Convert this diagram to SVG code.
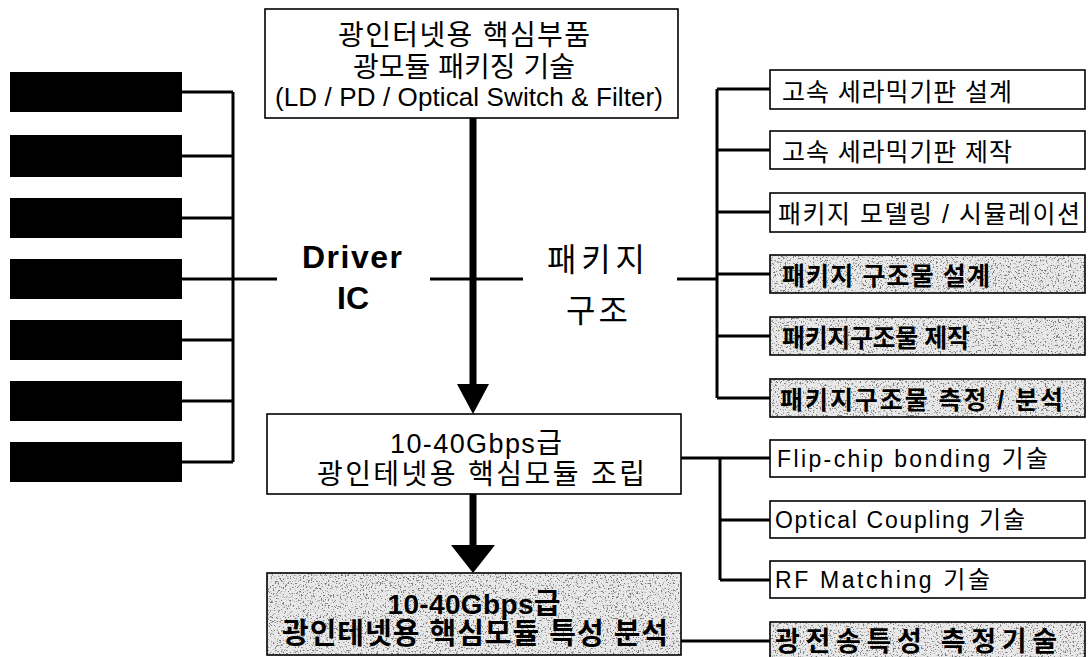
<svg xmlns="http://www.w3.org/2000/svg" width="1088" height="657" viewBox="0 0 1088 657">
  <style>
    .box { fill: #fff; stroke: #000; stroke-width: 1.6; }
    .bar { fill: #000; }
    .ln { stroke: #000; stroke-width: 3; fill: none; }
    .shaft { stroke: #000; stroke-width: 7; fill: none; }
    .head { fill: #000; }
    .t { font-family: "Liberation Sans", "Noto Sans CJK KR", sans-serif; fill: #000; }
    .c { text-anchor: middle; }
    .b { font-weight: bold; }
    .grain { fill: #e9e9e9; filter: url(#grain); }
    .edge { fill: none; stroke: #000; stroke-width: 1.6; }
  </style>
  <defs>
    <!-- speckled grey fill for the highlighted boxes -->
    <filter id="grain" x="0" y="0" width="1" height="1">
      <feTurbulence type="fractalNoise" baseFrequency="0.6" numOctaves="3" seed="7"/>
      <feColorMatrix type="matrix" values="0 0 0 0 0.2  0 0 0 0 0.2  0 0 0 0 0.2  8 0 0 0 -4.5"/>
      <feComposite in2="SourceGraphic" operator="in" result="specks"/>
      <feMerge>
        <feMergeNode in="SourceGraphic"/>
        <feMergeNode in="specks"/>
      </feMerge>
    </filter>
  </defs>

  <rect width="1088" height="657" fill="#fff"/>

  <!-- connectors -->
  <g id="connectors">
    <!-- left bars to bus -->
    <path class="ln" d="M182 92H233M182 156H233M182 218H233M182 279H233M182 340H233M182 401H233M182 462H233M233 92V462"/>
    <!-- main horizontal through the labels -->
    <path class="ln" d="M233 279H277M430 279H523M677 279H717"/>
    <!-- right bus for package structure items -->
    <path class="ln" d="M717 89V398M717 89H770M717 150H770M717 212H770M717 274H770M717 336H770M717 398H770"/>
    <!-- assembly items -->
    <path class="ln" d="M681 458H770M720 458V580M720 520H770M720 580H770"/>
    <!-- analysis item -->
    <path class="ln" d="M681 641H770"/>
    <!-- vertical flow arrows -->
    <path class="shaft" d="M473 118V388"/>
    <polygon class="head" points="457,384 489,384 473,414"/>
    <path class="shaft" d="M473 494V548"/>
    <polygon class="head" points="451,545 495,545 473,573"/>
  </g>

  <!-- left driver bars -->
  <g id="bars">
    <rect class="bar" x="10" y="72" width="172" height="40"/>
    <rect class="bar" x="10" y="135" width="172" height="42"/>
    <rect class="bar" x="10" y="198" width="172" height="40"/>
    <rect class="bar" x="10" y="259" width="172" height="40"/>
    <rect class="bar" x="10" y="320" width="172" height="40"/>
    <rect class="bar" x="10" y="381" width="172" height="40"/>
    <rect class="bar" x="10" y="442" width="172" height="40"/>
  </g>

  <g id="top">
    <rect class="box" x="265" y="9" width="413" height="109"/>
    <text class="t c" x="464" y="45" font-size="28" textLength="252" lengthAdjust="spacing">광인터넷용 핵심부품</text>
    <text class="t c" x="464" y="77" font-size="28" textLength="222" lengthAdjust="spacing">광모듈 패키징 기술</text>
    <text class="t c" x="469" y="106" font-size="26" textLength="388" lengthAdjust="spacing">(LD / PD / Optical Switch &amp; Filter)</text>
  </g>

  <g id="driver-ic">
    <text class="t c b" x="352" y="268" font-size="32" textLength="100" lengthAdjust="spacing">Driver</text>
    <text class="t c b" x="353" y="309" font-size="32">IC</text>
  </g>

  <g id="package">
    <text class="t c" x="596" y="271" font-size="32" textLength="98" lengthAdjust="spacing">패키지</text>
    <text class="t c" x="597" y="322" font-size="32" textLength="62" lengthAdjust="spacing">구조</text>
  </g>

  <g id="assembly">
    <rect class="box" x="267" y="414" width="414" height="80"/>
    <text class="t c" x="476" y="453" font-size="27" textLength="172" lengthAdjust="spacing">10-40Gbps<tspan font-size="28">급</tspan></text>
    <text class="t c" x="481" y="484" font-size="28" textLength="328" lengthAdjust="spacing">광인테넷용 핵심모듈 조립</text>
  </g>

  <g id="analysis">
    <rect class="grain" x="267" y="573" width="414" height="82"/>
    <rect class="edge" x="267" y="573" width="414" height="82"/>
    <text class="t c b" x="474" y="614" font-size="28" textLength="173" lengthAdjust="spacing">10-40Gbps<tspan font-size="29">급</tspan></text>
    <text class="t c b" x="475" y="644" font-size="29" textLength="386" lengthAdjust="spacing">광인테넷용 핵심모듈 특성 분석</text>
  </g>

  <g id="ceramic-design">
    <rect class="box" x="770" y="70" width="315" height="39"/>
    <text class="t" x="782" y="101" font-size="25" textLength="230" lengthAdjust="spacing">고속 세라믹기판 설계</text>
  </g>
  <g id="ceramic-fab">
    <rect class="box" x="770" y="131" width="315" height="38"/>
    <text class="t" x="782" y="161" font-size="25" textLength="230" lengthAdjust="spacing">고속 세라믹기판 제작</text>
  </g>
  <g id="modeling">
    <rect class="box" x="770" y="193" width="315" height="39"/>
    <text class="t" x="778" y="223" font-size="25" textLength="302" lengthAdjust="spacing">패키지 모델링 / 시뮬레이션</text>
  </g>
  <g id="struct-design">
    <rect class="grain" x="770" y="255" width="315" height="38"/>
    <rect class="edge" x="770" y="255" width="315" height="38"/>
    <text class="t b" x="782" y="285" font-size="25" textLength="208" lengthAdjust="spacing">패키지 구조물 설계</text>
  </g>
  <g id="struct-fab">
    <rect class="grain" x="770" y="317" width="315" height="38"/>
    <rect class="edge" x="770" y="317" width="315" height="38"/>
    <text class="t b" x="782" y="347" font-size="25" textLength="188" lengthAdjust="spacing">패키지구조물 제작</text>
  </g>
  <g id="struct-measure">
    <rect class="grain" x="770" y="379" width="315" height="38"/>
    <rect class="edge" x="770" y="379" width="315" height="38"/>
    <text class="t b" x="780" y="409" font-size="25" textLength="283" lengthAdjust="spacing">패키지구조물 측정 / 분석</text>
  </g>

  <g id="flip-chip">
    <rect class="box" x="770" y="440" width="315" height="37"/>
    <text class="t" x="777" y="467" font-size="23" textLength="271" lengthAdjust="spacing">Flip-chip bonding <tspan font-size="24">기술</tspan></text>
  </g>
  <g id="optical-coupling">
    <rect class="box" x="770" y="501" width="315" height="37"/>
    <text class="t" x="775" y="528" font-size="23" textLength="250" lengthAdjust="spacing">Optical Coupling <tspan font-size="24">기술</tspan></text>
  </g>
  <g id="rf-matching">
    <rect class="box" x="770" y="561" width="315" height="37"/>
    <text class="t" x="775" y="588" font-size="23" textLength="215" lengthAdjust="spacing">RF Matching <tspan font-size="24">기술</tspan></text>
  </g>
  <g id="optical-measure">
    <rect class="grain" x="770" y="622" width="315" height="38"/>
    <rect class="edge" x="770" y="622" width="315" height="38"/>
    <text class="t b" x="775" y="651" font-size="27" textLength="282" lengthAdjust="spacing">광전송특성 측정기술</text>
  </g>
</svg>
